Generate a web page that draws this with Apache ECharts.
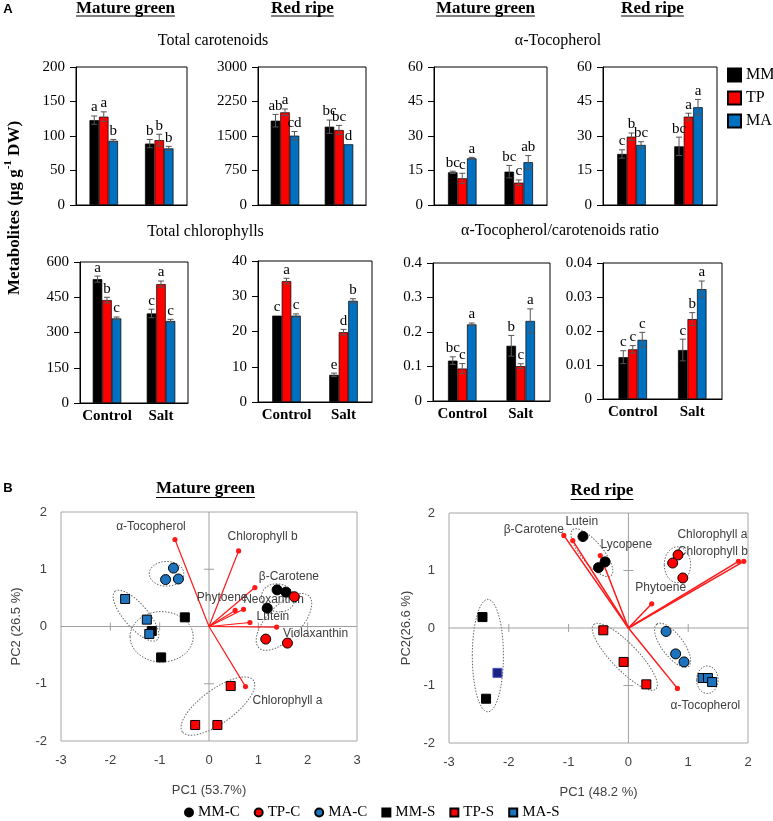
<!DOCTYPE html>
<html><head><meta charset="utf-8">
<script src="https://cdn.jsdelivr.net/npm/echarts@6/dist/echarts.min.js"></script>
<style>html,body{margin:0;padding:0;background:#fff}#c{width:773px;height:821px}</style>
</head><body><div id="c"></div>
<script>
// ---------------- DATA ----------------
const categories = ['Control', 'Salt'];
const genotypes = ['MM', 'TP', 'MA'];

// bar means / errors / letters, indexed [genotype][category]
const carMG = [[123, 89], [128, 94], [93, 82]];
const carMGErr = [[6, 6], [7, 8.5], [2, 3]];
const carMGLet = [['a', 'b'], ['a', 'b'], ['b', 'b']];
const carRR = [[1833, 1702], [2015, 1630], [1507, 1320]];
const carRRErr = [[137, 145], [72, 100], [90, 0]];
const carRRLet = [['ab', 'bc'], ['a', 'bc'], ['cd', 'd']];
const tocMG = [[14.2, 14.5], [11.6, 9.7], [20.3, 18.6]];
const tocMGErr = [[0.5, 2.7], [2.2, 1.2], [0.4, 2.9]];
const tocMGLet = [['bc', 'bc'], ['c', 'c'], ['a', 'ab']];
const tocRR = [[22.2, 25.5], [29.7, 38.4], [26.1, 42.5]];
const tocRRErr = [[1.8, 4], [1.6, 1.5], [1.4, 3.4]];
const tocRRLet = [['c', 'bc'], ['b', 'a'], ['bc', 'a']];
const chlMG = [[527, 381], [438, 506], [360, 349]];
const chlMGErr = [[13, 18], [12, 13], [6, 7]];
const chlMGLet = [['a', 'c'], ['b', 'a'], ['c', 'c']];
const chlRR = [[24.5, 7.7], [34.3, 19.8], [24.5, 28.7]];
const chlRRErr = [[0, 0.5], [0.8, 0.8], [0.5, 0.6]];
const chlRRLet = [['c', 'e'], ['a', 'd'], ['c', 'b']];
const ratMG = [[0.117, 0.160], [0.094, 0.101], [0.222, 0.232]];
const ratMGErr = [[0.011, 0.030], [0.0145, 0.007], [0.004, 0.035]];
const ratMGLet = [['bc', 'b'], ['c', 'c'], ['a', 'a']];
const ratRR = [[0.0123, 0.0144], [0.0146, 0.0235], [0.0174, 0.0323]];
const ratRRErr = [[0.0019, 0.0032], [0.0011, 0.0019], [0.0022, 0.0024]];
const ratRRLet = [['c', 'c'], ['c', 'b'], ['c', 'a']];

// PCA scores (PC1, PC2)
const mgPC_MMC = [[1.38, 0.64], [1.56, 0.60], [1.18, 0.32]];
const mgPC_TPC = [[1.73, 0.52], [1.15, -0.22], [1.59, -0.29]];
const mgPC_MAC = [[-0.72, 1.02], [-0.88, 0.82], [-0.62, 0.83]];
const mgPC_MMS = [[-0.49, 0.16], [-1.16, -0.08], [-0.97, -0.54]];
const mgPC_TPS = [[0.44, -1.04], [-0.28, -1.72], [0.17, -1.72]];
const mgPC_MAS = [[-1.70, 0.48], [-1.26, 0.12], [-1.21, -0.13]];
const mgLoadNames = ['α-Tocopherol', 'Chlorophyll b', 'β-Carotene', 'Phytoene', 'Neoxanthin', 'Lutein', 'Violaxanthin', 'Chlorophyll a'];
const mgLoadings = [[-0.69, 1.52], [0.60, 1.32], [0.93, 0.68], [0.53, 0.28], [0.70, 0.30], [0.83, 0.07], [1.37, -0.01], [0.74, -1.05]];
// ellipses: [centre PC1, centre PC2, semi-axis a, semi-axis b (PC1 units), angle deg]
const mgEllipses = [[-0.86, 0.92, 0.35, 0.25, 0], [-1.48, 0.19, 0.65, 0.24, -49], [-0.96, -0.18, 0.64, 0.51, 0],
                    [1.40, 0.50, 0.34, 0.28, -15], [1.52, 0.08, 0.73, 0.34, 46], [0.18, -1.39, 0.89, 0.34, 36]];

const rrPC_MMC = [[-0.76, 1.59], [-0.39, 1.15], [-0.50, 1.05]];
const rrPC_TPC = [[0.83, 1.27], [0.74, 1.13], [0.91, 0.87]];
const rrPC_MAC = [[0.63, -0.06], [0.79, -0.45], [0.93, -0.59]];
const rrPC_MMS = [[-2.44, 0.19], [-2.38, -1.23]];
const rrPC_odd = [[-2.19, -0.78]];
const rrPC_TPS = [[-0.42, -0.04], [-0.08, -0.59], [0.30, -0.98]];
const rrPC_MAS = [[1.24, -0.87], [1.33, -0.87], [1.40, -0.94]];
const rrLoadNames = ['β-Carotene', 'Lutein', 'Lycopene', 'Chlorophyll a', 'Chlorophyll b', 'Phytoene', 'α-Tocopherol'];
const rrLoadings = [[-1.08, 1.61], [-0.93, 1.52], [-0.47, 1.26], [1.84, 1.16], [1.93, 1.16], [0.39, 0.42], [0.82, -1.05]];
const rrEllipses = [[-0.61, 1.31, 0.50, 0.18, -50], [0.82, 1.10, 0.22, 0.30, 0], [-2.35, -0.48, 0.26, 0.94, 0],
                    [-0.06, -0.50, 0.75, 0.22, -46], [0.74, -0.30, 0.44, 0.18, -53], [1.32, -0.90, 0.18, 0.23, 0]];

const pcaTicksMG = { x: [-2, -1, 1, 2], y: [-1, 1] };
const pcaTicksRR = { x: [-2, -1, 1], y: [-1, 1] };

// ---------------- LAYOUT / STYLE ----------------
const SERIF = '"Liberation Serif", "Times New Roman", serif';
const SANS = '"Liberation Sans", Arial, sans-serif';
const BAR_W = 9.5;
const barColors = ['#000000', '#ff0000', '#0070c0'];
const mgLabelOff = [[-24, -13], [24, -14], [34, -11], [-13, -13], [30, -10], [23, -6], [39, 7], [42, 14]];
const rrLabelOff = [[-30, -6], [9, -19], [26, -11], [-26, -27], [-31, -10], [9, -16], [28, 17]];

const barPanels = [
  { m: carMG, e: carMGErr, l: carMGLet, max: 200, step: 50, box: [76, 67, 111, 138], xl: false },
  { m: carRR, e: carRRErr, l: carRRLet, max: 3000, step: 750, box: [258, 67, 108, 138], xl: false },
  { m: tocMG, e: tocMGErr, l: tocMGLet, max: 60, step: 15, box: [434, 67, 113, 138], xl: false },
  { m: tocRR, e: tocRRErr, l: tocRRLet, max: 60, step: 15, box: [603, 67, 114, 138], xl: false },
  { m: chlMG, e: chlMGErr, l: chlMGLet, max: 600, step: 150, box: [80, 262, 108, 141], xl: true },
  { m: chlRR, e: chlRRErr, l: chlRRLet, max: 40, step: 10, box: [258, 261, 114, 141], xl: true },
  { m: ratMG, e: ratMGErr, l: ratMGLet, max: 0.4, step: 0.1, box: [433, 263, 117, 138], xl: true },
  { m: ratRR, e: ratRRErr, l: ratRRLet, max: 0.04, step: 0.01, box: [603, 263, 119, 136], xl: true }
];

const grids = [], xAxes = [], yAxes = [], series = [];

barPanels.forEach((p, i) => {
  grids.push({ left: p.box[0], top: p.box[1], width: p.box[2], height: p.box[3], show: true, borderColor: '#000', borderWidth: 1 });
  xAxes.push({
    type: 'category', gridIndex: i, data: categories,
    axisTick: { show: false }, axisLine: { lineStyle: { color: '#000', width: 1 } },
    axisLabel: { show: p.xl, interval: 0, margin: 6, fontFamily: SERIF, fontWeight: 'bold', fontSize: 15, color: '#000' }
  });
  yAxes.push({
    type: 'value', gridIndex: i, min: 0, max: p.max, interval: p.step,
    axisLine: { show: true, lineStyle: { color: '#000' } },
    axisTick: { show: true, length: 6, lineStyle: { color: '#000' } },
    splitLine: { show: false },
    axisLabel: { margin: 11, fontFamily: SERIF, fontSize: 15, color: '#000', formatter: v => String(+v.toFixed(6)) }
  });
  for (let g = 0; g < 3; g++) {
    series.push({
      type: 'bar', name: genotypes[g], xAxisIndex: i, yAxisIndex: i, data: p.m[g],
      barWidth: BAR_W, barGap: '0%', z: 2, silent: true,
      itemStyle: { color: barColors[g], borderColor: '#000', borderWidth: 0.7 }
    });
  }
  const items = [];
  for (let g = 0; g < 3; g++) for (let c = 0; c < 2; c++) items.push({ g, c, m: p.m[g][c], e: p.e[g][c], t: p.l[g][c] });
  series.push({
    type: 'custom', xAxisIndex: i, yAxisIndex: i, z: 5, silent: true,
    data: items.map(d => [d.c, d.m + d.e]),
    renderItem(params, api) {
      const d = items[params.dataIndex];
      const off = (d.g - 1) * BAR_W;
      const top = api.coord([d.c, d.m + d.e]);
      const bot = api.coord([d.c, d.m - d.e]);
      const x = top[0] + off;
      const st = { stroke: '#555', lineWidth: 1 };
      const ch = [];
      if (d.e > 0) {
        ch.push({ type: 'line', shape: { x1: x, y1: top[1], x2: x, y2: bot[1] }, style: st });
        ch.push({ type: 'line', shape: { x1: x - 3, y1: top[1], x2: x + 3, y2: top[1] }, style: st });
        ch.push({ type: 'line', shape: { x1: x - 3, y1: bot[1], x2: x + 3, y2: bot[1] }, style: st });
      }
      ch.push({ type: 'text', x: x, y: top[1] - 1, style: { text: d.t, textAlign: 'center', textVerticalAlign: 'bottom', font: '15px ' + SERIF, fill: '#000' } });
      return { type: 'group', children: ch };
    }
  });
});

// ---------------- PCA ----------------
const pcaPanels = [
  { box: [61, 512, 296, 229], xmin: -3, xmax: 3, xname: 'PC1 (53.7%)', yname: 'PC2 (26.5 %)', ynameGap: 38, ticks: pcaTicksMG,
    groups: [mgPC_MMC, mgPC_TPC, mgPC_MAC, mgPC_MMS, mgPC_TPS, mgPC_MAS], load: mgLoadings, names: mgLoadNames, off: mgLabelOff, ell: mgEllipses, lw: 1.2 },
  { box: [449, 513, 299, 230], xmin: -3, xmax: 2, xname: 'PC1 (48.2 %)', yname: 'PC2(26.6 %)', ynameGap: 36, ticks: pcaTicksRR,
    groups: [rrPC_MMC, rrPC_TPC, rrPC_MAC, rrPC_MMS, rrPC_TPS, rrPC_MAS], odd: rrPC_odd, load: rrLoadings, names: rrLoadNames, off: rrLabelOff, ell: rrEllipses, lw: 1.5 }
];
const groupNames = ['MM-C', 'TP-C', 'MA-C', 'MM-S', 'TP-S', 'MA-S'];
const groupColors = ['#000000', '#ff0000', '#1e73be', '#000000', '#ff0000', '#1e73be'];
const groupSymbols = ['circle', 'circle', 'circle', 'rect', 'rect', 'rect'];

pcaPanels.forEach((p, k) => {
  const i = barPanels.length + k;
  grids.push({ left: p.box[0], top: p.box[1], width: p.box[2], height: p.box[3], show: true, borderColor: '#a6a6a6', borderWidth: 1 });
  xAxes.push({
    type: 'value', gridIndex: i, min: p.xmin, max: p.xmax, interval: 1,
    axisLine: { show: false, onZero: false }, axisTick: { show: false }, splitLine: { show: false },
    axisLabel: { margin: 13, fontFamily: SANS, fontSize: 13, color: '#404040' },
    name: p.xname, nameLocation: 'middle', nameGap: 43, nameTextStyle: { fontFamily: SANS, fontSize: 13, color: '#404040' }
  });
  yAxes.push({
    type: 'value', gridIndex: i, min: -2, max: 2, interval: 1,
    axisLine: { show: false, onZero: false }, axisTick: { show: false }, splitLine: { show: false },
    axisLabel: { margin: 14, fontFamily: SANS, fontSize: 13, color: '#404040' },
    name: p.yname, nameLocation: 'middle', nameGap: p.ynameGap, nameTextStyle: { fontFamily: SANS, fontSize: 13, color: '#404040' }
  });
  // ellipses
  series.push({
    type: 'custom', xAxisIndex: i, yAxisIndex: i, z: 1, silent: true,
    data: p.ell.map(e => [e[0], e[1]]),
    renderItem(params, api) {
      const e = p.ell[params.dataIndex];
      const c = api.coord([e[0], e[1]]);
      const s = api.size([1, 1]);
      return { type: 'ellipse', x: c[0], y: c[1], rotation: e[4] * Math.PI / 180,
        shape: { cx: 0, cy: 0, rx: e[2] * s[0], ry: e[3] * s[0] },
        style: { fill: 'none', stroke: '#666', lineWidth: 1, lineDash: [1.5, 1.5] } };
    }
  });
  // zero axes with ticks
  series.push({
    type: 'custom', xAxisIndex: i, yAxisIndex: i, z: 2, silent: true, data: [[0, 0]],
    renderItem(params, api) {
      const st = { stroke: '#a0a0a0', lineWidth: 1 };
      const l = api.coord([p.xmin, 0]), r = api.coord([p.xmax, 0]);
      const t = api.coord([0, 2]), b = api.coord([0, -2]);
      const ch = [
        { type: 'line', shape: { x1: l[0], y1: l[1], x2: r[0], y2: r[1] }, style: st },
        { type: 'line', shape: { x1: t[0], y1: t[1], x2: b[0], y2: b[1] }, style: st }
      ];
      p.ticks.x.forEach(v => { const q = api.coord([v, 0]); ch.push({ type: 'line', shape: { x1: q[0], y1: q[1] - 4, x2: q[0], y2: q[1] + 4 }, style: st }); });
      p.ticks.y.forEach(v => { const q = api.coord([0, v]); ch.push({ type: 'line', shape: { x1: q[0] - 5, y1: q[1], x2: q[0] + 5, y2: q[1] }, style: st }); });
      return { type: 'group', children: ch };
    }
  });
  // loading vectors
  series.push({
    type: 'custom', xAxisIndex: i, yAxisIndex: i, z: 3, silent: true,
    data: p.load,
    renderItem(params, api) {
      const j = params.dataIndex;
      const o = api.coord([0, 0]);
      const e = api.coord([api.value(0), api.value(1)]);
      const off = p.off[j];
      return { type: 'group', children: [
        { type: 'line', shape: { x1: o[0], y1: o[1], x2: e[0], y2: e[1] }, style: { stroke: '#ff1a1a', lineWidth: p.lw } },
        { type: 'circle', shape: { cx: e[0], cy: e[1], r: 2.6 }, style: { fill: '#ff1a1a' } },
        { type: 'text', x: e[0] + off[0], y: e[1] + off[1], style: { text: p.names[j], textAlign: 'center', textVerticalAlign: 'middle', font: '12px ' + SANS, fill: '#404040' } }
      ] };
    }
  });
  p.groups.forEach((d, g) => {
    series.push({
      type: 'scatter', name: groupNames[g], xAxisIndex: i, yAxisIndex: i, data: d, z: 4,
      symbol: groupSymbols[g], symbolSize: groupSymbols[g] === 'rect' ? 9 : 10,
      itemStyle: { color: groupColors[g], borderColor: '#000', borderWidth: 1, opacity: 1 }
    });
  });
  if (p.odd) {
    series.push({
      type: 'scatter', name: 'MM-S ', xAxisIndex: i, yAxisIndex: i, data: p.odd, z: 4,
      symbol: 'rect', symbolSize: 9, itemStyle: { color: '#1a237e', borderColor: '#4a55c8', borderWidth: 1, opacity: 1 }
    });
  }
});

// ---------------- TEXT ----------------
const mctx = document.createElement('canvas').getContext('2d');
function tw(font, s) { mctx.font = font; return mctx.measureText(s).width; }
const graphic = [];
function txt(s, x, y, font, align, extra) {
  graphic.push(Object.assign({ type: 'text', x, y, style: { text: s, font, fill: '#000', textAlign: align || 'center', textVerticalAlign: 'middle' } }, extra || {}));
}
const TF = 'bold 17px ' + SERIF;
[['Mature green', 125.5, 9, 16], ['Red ripe', 302.5, 9, 16], ['Mature green', 485.5, 9, 16], ['Red ripe', 652.5, 9, 16],
 ['Mature green', 205.5, 489, 497.5], ['Red ripe', 602, 491, 499.5]].forEach(([s, x, y, u]) => {
  txt(s, x, y, TF);
  const w = tw(TF, s);
  graphic.push({ type: 'line', shape: { x1: x - w / 2, y1: u, x2: x + w / 2, y2: u }, style: { stroke: '#000', lineWidth: 1.2 } });
});
const SF = '16px ' + SERIF;
txt('Total carotenoids', 213, 41, SF);
txt('α-Tocopherol', 558, 41, SF);
txt('Total chlorophylls', 205.5, 232, SF);
txt('α-Tocopherol/carotenoids ratio', 560, 231, SF);
txt('A', 8, 9, 'bold 13px ' + SANS);
txt('B', 8, 488, 'bold 13px ' + SANS);
graphic.push({
  type: 'text', x: 13, y: 208, rotation: Math.PI / 2,
  style: {
    text: '{b|Metabolites (μg g}{s|-1}{b| DW)}', textAlign: 'center', textVerticalAlign: 'middle', fill: '#000',
    rich: { b: { font: 'bold 17px ' + SERIF, lineHeight: 20, verticalAlign: 'bottom' }, s: { font: 'bold 11px ' + SERIF, lineHeight: 20, verticalAlign: 'top' } }
  }
});

const option = {
  animation: false,
  backgroundColor: '#fff',
  grid: grids, xAxis: xAxes, yAxis: yAxes, series,
  legend: [
    { data: genotypes, orient: 'vertical', left: 727, top: 67, padding: 0, itemWidth: 13, itemHeight: 13, itemGap: 7, icon: 'rect',
      selectedMode: false, textStyle: { fontFamily: SERIF, fontSize: 16, color: '#000' } },
    { data: groupNames, orient: 'horizontal', left: 184, top: 805, padding: 0, itemWidth: 8, itemHeight: 8, itemGap: 14,
      selectedMode: false, textStyle: { fontFamily: SERIF, fontSize: 15, color: '#000' } }
  ],
  graphic
};
const chart = echarts.init(document.getElementById('c'), null, { renderer: 'canvas' });
chart.setOption(option);
</script></body></html>
